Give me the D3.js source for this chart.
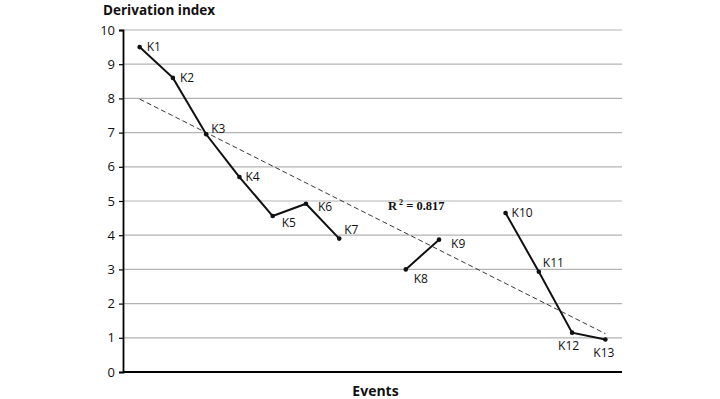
<!DOCTYPE html>
<html>
<head>
<meta charset="utf-8">
<script src="https://cdn.jsdelivr.net/npm/d3@7"></script>
<style>
  body { margin: 0; background: #fff; }
  text { font-family: "Open Sans", "DejaVu Sans", sans-serif; }
</style>
</head>
<body>
<div id="chart"></div>
<script>
// Event labels, slot on the x scale (gaps between groups) and derivation index
const labels = ["K1", "K2", "K3", "K4", "K5", "K6", "K7", "K8", "K9", "K10", "K11", "K12", "K13"];
const slots = [0, 1, 2, 3, 4, 5, 6, 8, 9, 11, 12, 13, 14];
const values = [9.5, 8.6, 6.95, 5.7, 4.56, 4.92, 3.9, 3.0, 3.87, 4.65, 2.93, 1.15, 0.95];
const groups = [[0, 7], [7, 9], [9, 13]];
const trendValues = [7.98, 1.12];
const yTicks = [0, 1, 2, 3, 4, 5, 6, 7, 8, 9, 10];
const r2Text = "0.817";

// label placement: dx, dy relative to point
const labelPlace = [[7, 0], [7, 0], [5, -6], [6, 0], [9, 7], [12, 3], [5, -9], [8, 9], [12, 4], [6, 0], [4, -9], [-14, 13], [-12, 13]];

const W = 720, H = 399;
const margin = { top: 30, right: 98, bottom: 27, left: 123 };
const width = W - margin.left - margin.right,
    height = H - margin.top - margin.bottom;

const svg = d3.select("#chart").append("svg")
    .attr("width", W)
    .attr("height", H)
    .append("g")
    .attr("transform", `translate(${margin.left},${margin.top})`);

const x = d3.scaleBand()
    .domain(d3.range(15))
    .range([0, width]);

const y = d3.scaleLinear()
    .domain([0, 10])
    .range([height, 0]);

const cx = i => x(slots[i]) + x.bandwidth() / 2;

// gridlines
svg.append("g")
    .selectAll("line")
    .data(yTicks.filter(d => d > 0))
    .join("line")
    .attr("x1", 0)
    .attr("x2", width)
    .attr("y1", d => y(d))
    .attr("y2", d => y(d))
    .attr("stroke", "#b3b3b3")
    .attr("stroke-width", 1.2);

// y axis
const yAxis = svg.append("g")
    .call(d3.axisLeft(y).tickValues(yTicks).tickSize(4).tickPadding(4));
yAxis.select(".domain").attr("stroke", "#000").attr("stroke-width", 1.8);
yAxis.selectAll(".tick line").attr("stroke", "#000").attr("stroke-width", 1.2);
yAxis.selectAll(".tick text")
    .style("font-size", "13px")
    .style("font-family", "'Open Sans', sans-serif")
    .attr("fill", "#111");

// x axis line
svg.append("line")
    .attr("x1", 0)
    .attr("x2", width)
    .attr("y1", height)
    .attr("y2", height)
    .attr("stroke", "#000")
    .attr("stroke-width", 1.8);

// trend line
svg.append("line")
    .attr("x1", cx(0))
    .attr("x2", cx(labels.length - 1))
    .attr("y1", y(trendValues[0]))
    .attr("y2", y(trendValues[1]))
    .attr("stroke", "#222")
    .attr("stroke-width", 0.9)
    .attr("stroke-dasharray", "5,3");

// data lines
const line = d3.line()
    .x(i => cx(i))
    .y(i => y(values[i]));

groups.forEach(g => {
    svg.append("path")
        .datum(d3.range(g[0], g[1]))
        .attr("fill", "none")
        .attr("stroke", "#111")
        .attr("stroke-width", 2)
        .attr("d", line);
});

// points
svg.append("g")
    .selectAll("circle")
    .data(d3.range(labels.length))
    .join("circle")
    .attr("cx", i => cx(i))
    .attr("cy", i => y(values[i]))
    .attr("r", 2.3)
    .attr("fill", "#111");

// point labels
svg.append("g")
    .selectAll("text")
    .data(d3.range(labels.length))
    .join("text")
    .attr("x", i => cx(i) + labelPlace[i][0])
    .attr("y", i => y(values[i]) + labelPlace[i][1])
    .attr("dy", "0.35em")
    .style("font-size", "12px")
    .attr("fill", "#111")
    .text(i => labels[i]);

// R² label
const r2 = svg.append("text")
    .attr("x", 265)
    .attr("y", y(4.75))
    .style("font-family", "'Liberation Serif', serif")
    .style("font-size", "12.5px")
    .style("font-weight", "bold")
    .attr("fill", "#111");
r2.append("tspan").text("R");
r2.append("tspan").attr("dy", -5).style("font-size", "8px").text(" 2");
r2.append("tspan").attr("dy", 5).text(` = ${r2Text}`);

// titles
svg.append("text")
    .attr("x", -20)
    .attr("y", -15)
    .style("font-size", "13.5px")
    .style("font-weight", "bold")
    .attr("fill", "#111")
    .text("Derivation index");

svg.append("text")
    .attr("x", width / 2 + 3)
    .attr("y", height + 24)
    .attr("text-anchor", "middle")
    .style("font-size", "14px")
    .style("font-weight", "bold")
    .attr("fill", "#111")
    .text("Events");
</script>
</body>
</html>
